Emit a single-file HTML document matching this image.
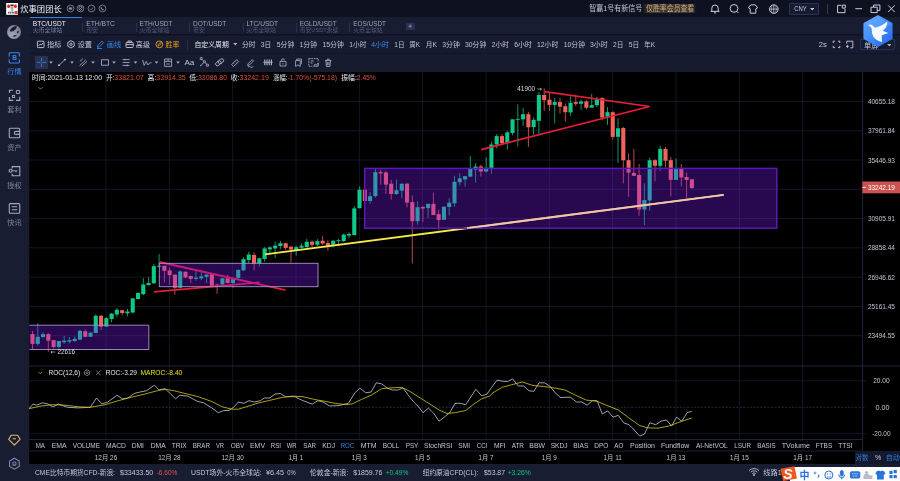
<!DOCTYPE html><html lang="zh"><head><meta charset="utf-8"><title>BTC/USDT</title><style>
html,body{margin:0;padding:0;background:#0d1120;}
body{filter:blur(0.3px);width:900px;height:481px;overflow:hidden;position:relative;font-family:"Liberation Sans","Noto Sans CJK SC",sans-serif;color:#c9cede;font-size:7.5px;line-height:1;}
.abs{position:absolute;}
svg{position:absolute;display:block;}
#title{left:0;top:0;width:900px;height:17px;background:#0d1120;}
#tabs{left:0;top:16.7px;width:900px;height:17.8px;background:#181d32;}
#tb1{left:29.4px;top:34.5px;width:871px;height:18.5px;background:#161b2f;border-top:0.6px solid #12172a;box-sizing:border-box;}
#tb2{left:29.4px;top:53px;width:871px;height:19px;background:#161b2e;border-top:0.7px solid #10152a;box-sizing:border-box;}
#side{left:0;top:34px;width:29.4px;height:447px;background:#181d32;}
#bottom{left:29px;top:463.6px;width:871px;height:17.4px;background:#181d32;}

</style></head><body>
<div id="title" class="abs"></div><div id="tabs" class="abs"></div><div id="tb1" class="abs"></div><div id="tb2" class="abs"></div><div id="side" class="abs"></div><div id="bottom" class="abs"></div>
<svg style="left:5.6px;top:3px" width="12.1" height="11.8" viewBox="0 0 12 12"><rect width="12" height="12" fill="#fdfdfd"/><ellipse cx="2.5" cy="3.3" rx="1.5" ry="1.9" fill="#d22a22"/><ellipse cx="9.5" cy="3.3" rx="1.5" ry="1.9" fill="#d22a22"/><rect x="4.3" y="2.7" width="3.4" height="3.4" rx="1.2" fill="#e3b49a"/><rect x="4.1" y="1.5" width="3.8" height="1.6" rx="0.7" fill="#3a2a26"/><path d="M5.3 4.6h1.4v1h-1.4z" fill="#8a4a40"/><rect x="4.6" y="6.2" width="2.8" height="2.4" fill="#8fc0e6"/><path d="M1.9 8.8h1.2v2h-1.2zM3.6 8.8h1.6v2h-1.6zM5.7 8.8h1v2h-1zM7.1 8.8h1v2h-1z" fill="#555"/><rect x="8.6" y="8.2" width="3.1" height="3.1" rx="0.3" fill="#ee3a2a"/></svg>
<svg style="left:66.3px;top:3.9px" width="9" height="9" viewBox="-4.5 -4.5 9 9" fill="none" stroke="#8a90a6" stroke-width="0.8"><circle r="3.4"/><path d="M-1.7 -1.1h3.4v2.2h-3.4z" fill="#8a90a6" stroke="none"/></svg>
<svg style="left:76.0px;top:3.9px" width="9" height="9" viewBox="-4.5 -4.5 9 9" fill="none" stroke="#8a90a6" stroke-width="0.8"><circle r="3.4"/><path d="M-1.5 -1.6l1.5 -0.5l1.5 0.5v1.6q0 1.2 -1.5 2q-1.5 -0.8 -1.5 -2zM-1.6 1.6l3.2 -3.2"/></svg>
<svg style="left:86.8px;top:3.9px" width="9" height="9" viewBox="-4.5 -4.5 9 9" fill="none" stroke="#8a90a6" stroke-width="0.8"><circle r="3.4"/><path d="M-1.4 0.2l1 1.1l1.9 -2.3"/></svg>
<svg style="left:98.0px;top:3.9px" width="9" height="9" viewBox="-4.5 -4.5 9 9" fill="none" stroke="#8a90a6" stroke-width="0.8"><circle r="3.4"/><path d="M-1.3 -1.4q-0.2 2.8 2.7 2.7" stroke-width="1.1"/></svg>
<div class="abs" style="left:642px;top:3.9px;width:55px;height:9.4px;background:linear-gradient(90deg,rgba(96,78,56,0),rgba(104,84,60,.6) 14%,rgba(104,84,60,.6) 86%,rgba(96,78,56,0));"></div>
<svg style="left:706px;top:2px" width="74" height="14" viewBox="706 2 74 14" fill="none" stroke="#c9cede" stroke-width="1"><path d="M710.6 11.4h8.8M711.8 11.2v-3a3.2 3.2 0 0 1 6.4 0v3M714 12.9h2"/><circle cx="734" cy="8.4" r="3.9"/><path d="M736.8 11.4l1.7 1.7"/><path d="M749.8 5.6l2.1 -1q1.1 1 2.2 0l2.1 1l1.3 2.3l-1.7 0.9v4.4h-5.6v-4.4l-1.7 -0.9z"/><circle cx="773.8" cy="9.1" r="4.3"/><path d="M769.5 9.1h8.6M773.8 4.8v8.6" stroke-width="0.8"/><path d="M771.9 5.4q-1.2 3.7 0 7.4M775.7 5.4q1.2 3.7 0 7.4" stroke-width="0.6"/></svg>
<div class="abs" style="left:789.3px;top:3px;width:29.5px;height:11.5px;border:0.8px solid #2b3252;background:#151b31;box-sizing:border-box;border-radius:1px;"></div>
<svg style="left:809.6px;top:7.9px" width="4.6" height="2.6" viewBox="0 0 5 3"><path d="M0 0h5l-2.5 3z" fill="#c9cede"/></svg>
<div class="abs" style="left:827.3px;top:4px;width:0.8px;height:9.5px;background:#333a58;"></div>
<svg style="left:834px;top:2px" width="64" height="14" viewBox="834 2 64 14" fill="none" stroke="#c9cede" stroke-width="1"><path d="M841.3 5.3h-3.7v7.4h7.4v-3.7M842.3 5.1h3v3h-3z"/><path d="M855.3 8.7h6.8"/><path d="M871 7.2h6.2v5.4h-6.2zM873.6 7v-2h6.3v5.4h-2.6"/><path d="M888.2 5.4l6.4 6.6M894.6 5.4l-6.4 6.6"/></svg>
<svg style="left:6px;top:24px" width="16" height="16" viewBox="-8 -8 16 16"><defs><radialGradient id="lg" cx="0.35" cy="0.7" r="0.8"><stop offset="0" stop-color="#a2a6b4"/><stop offset="1" stop-color="#767a8a"/></radialGradient></defs><circle r="7" fill="url(#lg)"/><path d="M-3.9 -0.6Q-4.4 -4 2.2 -6.3Q3.4 -5.4 2.2 -3.6Q-0.5 0.2 -3.9 -0.6Z" fill="#181d32"/><ellipse cx="3.9" cy="0" rx="0.8" ry="1.4" transform="rotate(22 3.9 0)" fill="#1c2136"/><ellipse cx="0.8" cy="3.9" rx="2" ry="0.65" transform="rotate(-14 0.8 3.9)" fill="#1c2136"/></svg>
<div class="abs" style="left:29.5px;top:16.8px;width:52.7px;height:18px;background:#161b2f;border-top:0.9px solid #3b7fdc;box-sizing:border-box;"></div>
<div class="abs" style="left:82.4px;top:22.5px;width:0.6px;height:9.2px;background:#2a3050;"></div>
<div class="abs" style="left:135.8px;top:22.5px;width:0.6px;height:9.2px;background:#2a3050;"></div>
<div class="abs" style="left:189.2px;top:22.5px;width:0.6px;height:9.2px;background:#2a3050;"></div>
<div class="abs" style="left:242.6px;top:22.5px;width:0.6px;height:9.2px;background:#2a3050;"></div>
<div class="abs" style="left:296.0px;top:22.5px;width:0.6px;height:9.2px;background:#2a3050;"></div>
<div class="abs" style="left:349.4px;top:22.5px;width:0.6px;height:9.2px;background:#2a3050;"></div>
<div class="abs" style="left:405.5px;top:22.5px;width:9.5px;height:7px;background:#2a3150;border-radius:1px;"></div><svg style="left:408px;top:23.8px" width="4.4" height="4.4" viewBox="0 0 4.4 4.4"><path d="M2.2 0.4v3.6M0.4 2.2h3.6" stroke="#8f97b8" stroke-width="0.8"/></svg>
<svg style="left:36px;top:39px" width="150" height="11" viewBox="36 39 150 11" fill="none" stroke-width="0.9"><g stroke="#c9cede"><rect x="37.4" y="41.2" width="6.6" height="6.4" rx="0.8"/><path d="M38.7 45.8l1.4 -1.7l1.2 0.9l1.6 -1.9"/><path d="M71 40.6l3.2 1.85v3.7l-3.2 1.85l-3.2 -1.85v-3.7z"/><circle cx="71" cy="44.3" r="1.2"/><rect x="126" y="42.5" width="7.2" height="5" rx="0.7"/><path d="M127.9 42.3v-1.3h3.4v1.3M126 44.6h7.2"/></g><g stroke="#3b86f0"><path d="M97.4 47.3l0.6 -2.1l4 -4l1.5 1.5l-4 4zM97 48.5h5"/></g><g stroke="#e8a020"><circle cx="159.4" cy="44.4" r="3.4"/><path d="M158 45.8l0.9 -2.3l2.3 -0.9l-0.9 2.3z" stroke-width="0.7"/></g></svg>
<div class="abs" style="left:187px;top:39.5px;width:0.7px;height:10px;background:#2a3150;"></div>
<svg style="left:232.8px;top:43.4px" width="4.6" height="2.6" viewBox="0 0 5 3"><path d="M0 0h5l-2.5 3z" fill="#aab0c4"/></svg>
<svg style="left:831px;top:39px" width="26" height="11" viewBox="831 39 26 11" fill="none" stroke="#c9cede" stroke-width="0.9"><path d="M833.2 43v-1.8h1.8M838 41.2h1.8v1.8M839.8 45.8v1.8h-1.8M835 47.6h-1.8v-1.8"/><path d="M846.8 43.6v-2.4h6v6.6h-2.4M846 46.4h2.8M847.4 45v2.8"/></svg>
<div class="abs" style="left:860px;top:39.3px;width:35px;height:11.2px;border:0.8px solid #2b3252;background:#151b31;box-sizing:border-box;border-radius:1px;"></div>
<svg style="left:886.6px;top:44px" width="4.6" height="2.6" viewBox="0 0 5 3"><path d="M0 0h5l-2.5 3z" fill="#aab0c4"/></svg>
<div class="abs" style="left:35px;top:55.7px;width:13.1px;height:13.2px;background:#293251;border-radius:1px;"></div>
<svg style="left:29px;top:53px" width="320" height="19" viewBox="29 53 320 19" fill="none" stroke="#b4bace" stroke-width="0.8">
<path d="M41.5 57.8v3.7M41.5 63.3v3.7M36.8 62.4h3.8M42.4 62.4h3.8" stroke="#3f86ea" stroke-width="0.8"/>
<path d="M49.2 61.6h3.6l-1.8 2.2z" fill="#aab0c4" stroke="none"/>
<path d="M70.2 61.6h3.6l-1.8 2.2z" fill="#aab0c4" stroke="none"/>
<path d="M91.2 61.6h3.6l-1.8 2.2z" fill="#aab0c4" stroke="none"/>
<path d="M112.2 61.6h3.6l-1.8 2.2z" fill="#aab0c4" stroke="none"/>
<path d="M133.7 61.6h3.6l-1.8 2.2z" fill="#aab0c4" stroke="none"/>
<path d="M154.7 61.6h3.6l-1.8 2.2z" fill="#aab0c4" stroke="none"/>
<path d="M176.2 61.6h3.6l-1.8 2.2z" fill="#aab0c4" stroke="none"/>
<path d="M59.2 65l5.6 -5.2"/><circle cx="59" cy="65.2" r="0.9" fill="#c9cede" stroke="none"/><circle cx="65" cy="59.6" r="0.9" fill="#c9cede" stroke="none"/>
<path d="M79.6 65.6l6.2 -5.8M81.6 66.4l5.4 -5M79.8 61.4l3 -2.8" stroke-width="0.8"/>
<rect x="101.6" y="59.8" width="6.8" height="5.4"/>
<path d="M122.6 59.6h7M122.6 62.5h7M122.6 65.4h7M124.8 58.8v1.6M127.4 64.6v1.6" />
<path d="M142.6 60l1.6 5.4l2 -4l1.8 3.6l1.8 -2.2h1.6" stroke-width="0.8"/>
<path d="M164.6 59h7v7.4h-7zM164.6 61.4h7M168.1 59v2.4M166.4 64h3.4" stroke-width="0.8"/>
<path d="M200.2 57.6h2v2h-2zM203.4 60.8h2v2h-2zM206.4 64.2h2v2h-2zM202.2 59.6l1.2 1.2M205.4 62.8l1.2 1.4M203.4 62.8l-2.6 2.8M200 65.6h1.6" stroke-width="0.75"/>
<g transform="rotate(-38 219.6 62.3)" stroke-width="0.85"><rect x="215" y="60.5" width="6" height="3.6" rx="1.8"/><rect x="218.2" y="60.5" width="6" height="3.6" rx="1.8"/></g>
<path d="M231.6 64.6l5 -5l2 2l-5 5zM233.4 63l0.9 0.9M235 61.4l0.9 0.9" stroke-width="0.8"/>
<path d="M247.6 65.6l0.5 -1.8l4.2 -4.2l1.3 1.3l-4.2 4.2zM248 67q1.6 -1.4 2.6 0t2.8 -0.6" stroke-width="0.8"/>
<path d="M263.2 62.3h9.6" stroke-width="0.8"/><path d="M264.8 59.4v5.8M267 59.4v5.8M269.2 59.4v5.8M271.4 59.4v5.8" stroke-width="1.1"/>
<path d="M280 61.4h6v4.6h-6zM281.6 61.2v-1a1.4 1.4 0 0 1 2.8 0M283 63v1.4" stroke-width="0.8"/>
<path d="M295.6 60.6h4.6v5.8l-2.3 -1.4l-2.3 1.4zM296.8 60.4v-1.4h4.6v5.2" stroke-width="0.8"/>
<path d="M308.8 58.6h9.4v3.2M308.8 58.6v7.6h3.6" stroke-width="0.8" stroke-dasharray="1.8 0.7"/><path d="M310.6 61h3.2M310.6 63h2M313.6 66.2l1.6 -2.2l1.2 1.2l1.8 -2.4v3.4z" stroke-width="0.8"/>
<path d="M325 60.6h6.4M326 60.6l0.4 5.8h3.6l0.4 -5.8M327.2 60.4v-1.2h2v1.2M327.6 62.2v3M328.9 62.2v3" stroke-width="0.8"/>
</svg>
<svg style="left:0;top:36px" width="29" height="445" viewBox="0 36 29 445" fill="none" stroke-width="1.1">
<g stroke="#3b86f0"><rect x="9.2" y="52.8" width="10.2" height="10.2" rx="0.9"/><path d="M9.2 56.4v3M19.4 56.4v3" stroke="#181d32" stroke-width="1.6"/></g>
<text x="12.3" y="60.3" font-size="6.6" font-weight="bold" fill="#3b86f0" font-family='"Liberation Sans",sans-serif'>B</text>
<g stroke="#a4aabe"><path d="M9.4 93v-2.7h3.6M9.4 97v3.4h3.8M16 100.4h3.8v-3.6"/><circle cx="18" cy="92" r="1.8"/><rect x="12.4" y="95.4" width="2.2" height="2.2" stroke-width="0.9"/>
<rect x="9.3" y="128.2" width="10.4" height="9.6" rx="1"/><path d="M19.7 131.4h-3.9a1.5 1.5 0 0 0 0 3h3.9"/>
<path d="M12.2 168.4v-1.8h7.6v9.2h-7.6v-2"/><circle cx="10.6" cy="170.8" r="1.5"/><path d="M12.1 170.8h5.2M16 170.8v1.5" stroke-width="0.9"/>
<rect x="9.3" y="203.6" width="10.4" height="9.6" rx="1"/><path d="M11.8 206.8h5.4M11.8 209.8h5.4"/></g>
<g stroke="#e0b070" stroke-width="1.1" stroke-linejoin="round"><path d="M8.7 439.4l2.4 -4.1h6.6l2.4 4.1l-5.7 5.8zM12.6 438.8h3.4" /></g>
<g stroke="#8088ae"><path d="M14.4 458.2l4.8 2.75v5.5l-4.8 2.75l-4.8 -2.75v-5.5z"/><circle cx="14.4" cy="463.7" r="1.7"/></g>
</svg>
<svg style="left:29px;top:72px" width="871" height="392" viewBox="29 72 871 392" font-family='"Liberation Sans","Noto Sans CJK SC",sans-serif' font-size="7.2">
<rect x="29.4" y="72" width="871" height="392" fill="#000"/>
<path d="M106.0 72V439.6" stroke="#1b2038" stroke-width="0.7"/>
<path d="M169.3 72V439.6" stroke="#1b2038" stroke-width="0.7"/>
<path d="M232.7 72V439.6" stroke="#1b2038" stroke-width="0.7"/>
<path d="M296.0 72V439.6" stroke="#1b2038" stroke-width="0.7"/>
<path d="M359.3 72V439.6" stroke="#1b2038" stroke-width="0.7"/>
<path d="M422.6 72V439.6" stroke="#1b2038" stroke-width="0.7"/>
<path d="M486.0 72V439.6" stroke="#1b2038" stroke-width="0.7"/>
<path d="M549.3 72V439.6" stroke="#1b2038" stroke-width="0.7"/>
<path d="M612.6 72V439.6" stroke="#1b2038" stroke-width="0.7"/>
<path d="M676.0 72V439.6" stroke="#1b2038" stroke-width="0.7"/>
<path d="M739.3 72V439.6" stroke="#1b2038" stroke-width="0.7"/>
<path d="M802.6 72V439.6" stroke="#1b2038" stroke-width="0.7"/>
<path d="M29 101.5H862.6" stroke="#1b2038" stroke-width="0.7"/>
<path d="M29 130.8H862.6" stroke="#1b2038" stroke-width="0.7"/>
<path d="M29 160.0H862.6" stroke="#1b2038" stroke-width="0.7"/>
<path d="M29 189.3H862.6" stroke="#1b2038" stroke-width="0.7"/>
<path d="M29 218.6H862.6" stroke="#1b2038" stroke-width="0.7"/>
<path d="M29 247.8H862.6" stroke="#1b2038" stroke-width="0.7"/>
<path d="M29 277.1H862.6" stroke="#1b2038" stroke-width="0.7"/>
<path d="M29 306.4H862.6" stroke="#1b2038" stroke-width="0.7"/>
<path d="M29 335.7H862.6" stroke="#1b2038" stroke-width="0.7"/>
<path d="M29 366H900" stroke="#232a48" stroke-width="0.9"/>
<path d="M29 380.8H866M29 433.6H866" stroke="#1b2038" stroke-width="0.7"/>
<path d="M29 407.3H866" stroke="#272e50" stroke-width="0.8" stroke-dasharray="2.2 1.3"/>
<path d="M29 439.6H862.6" stroke="#232a48" stroke-width="0.9"/>
<path d="M862.6 72V451" stroke="#232a48" stroke-width="0.9"/>
<path d="M32.5 330.8V350.0" stroke="#f0625c" stroke-width="0.9" opacity="0.85"/>
<rect x="30.45" y="334.1" width="4.1" height="9.8" fill="#f0625c"/>
<path d="M37.8 323.3V345.7" stroke="#10c888" stroke-width="0.9" opacity="0.85"/>
<rect x="35.73" y="336.8" width="4.1" height="7.1" fill="#10c888"/>
<path d="M43.0 332.3V338.3" stroke="#10c888" stroke-width="0.9" opacity="0.85"/>
<rect x="41.00" y="334.1" width="4.1" height="2.9" fill="#10c888"/>
<path d="M48.3 333.2V351.7" stroke="#f0625c" stroke-width="0.9" opacity="0.85"/>
<rect x="46.28" y="334.1" width="4.1" height="6.6" fill="#f0625c"/>
<path d="M53.6 340.1V348.5" stroke="#f0625c" stroke-width="0.9" opacity="0.85"/>
<rect x="51.55" y="340.1" width="4.1" height="6.9" fill="#f0625c"/>
<path d="M58.9 341.0V348.2" stroke="#10c888" stroke-width="0.9" opacity="0.85"/>
<rect x="56.83" y="341.0" width="4.1" height="6.0" fill="#10c888"/>
<path d="M64.2 335.8V343.9" stroke="#10c888" stroke-width="0.9" opacity="0.85"/>
<rect x="62.10" y="340.7" width="4.1" height="1.5" fill="#10c888"/>
<path d="M69.4 337.0V343.5" stroke="#10c888" stroke-width="0.9" opacity="0.85"/>
<rect x="67.38" y="340.1" width="4.1" height="1.5" fill="#10c888"/>
<path d="M74.7 336.4V342.0" stroke="#10c888" stroke-width="0.9" opacity="0.85"/>
<rect x="72.65" y="338.8" width="4.1" height="2.2" fill="#10c888"/>
<path d="M80.0 329.8V340.1" stroke="#10c888" stroke-width="0.9" opacity="0.85"/>
<rect x="77.92" y="330.8" width="4.1" height="8.8" fill="#10c888"/>
<path d="M85.2 329.5V337.3" stroke="#f0625c" stroke-width="0.9" opacity="0.85"/>
<rect x="83.20" y="331.3" width="4.1" height="5.5" fill="#f0625c"/>
<path d="M90.5 332.6V336.8" stroke="#10c888" stroke-width="0.9" opacity="0.85"/>
<rect x="88.48" y="332.6" width="4.1" height="4.2" fill="#10c888"/>
<path d="M95.8 314.3V333.0" stroke="#10c888" stroke-width="0.9" opacity="0.85"/>
<rect x="93.75" y="315.8" width="4.1" height="17.2" fill="#10c888"/>
<path d="M101.1 314.9V330.2" stroke="#f0625c" stroke-width="0.9" opacity="0.85"/>
<rect x="99.03" y="315.8" width="4.1" height="10.9" fill="#f0625c"/>
<path d="M106.4 317.1V326.7" stroke="#10c888" stroke-width="0.9" opacity="0.85"/>
<rect x="104.30" y="318.2" width="4.1" height="8.5" fill="#10c888"/>
<path d="M111.6 313.0V322.4" stroke="#10c888" stroke-width="0.9" opacity="0.85"/>
<rect x="109.58" y="313.6" width="4.1" height="5.4" fill="#10c888"/>
<path d="M116.9 308.0V317.1" stroke="#10c888" stroke-width="0.9" opacity="0.85"/>
<rect x="114.85" y="309.8" width="4.1" height="4.7" fill="#10c888"/>
<path d="M122.2 309.8V314.9" stroke="#f0625c" stroke-width="0.9" opacity="0.85"/>
<rect x="120.13" y="310.2" width="4.1" height="2.8" fill="#f0625c"/>
<path d="M127.5 308.9V316.2" stroke="#10c888" stroke-width="0.9" opacity="0.85"/>
<rect x="125.40" y="311.5" width="4.1" height="1.9" fill="#10c888"/>
<path d="M132.7 298.0V313.4" stroke="#10c888" stroke-width="0.9" opacity="0.85"/>
<rect x="130.68" y="298.4" width="4.1" height="14.1" fill="#10c888"/>
<path d="M138.0 292.4V299.5" stroke="#10c888" stroke-width="0.9" opacity="0.85"/>
<rect x="135.95" y="293.0" width="4.1" height="6.0" fill="#10c888"/>
<path d="M143.3 277.9V295.1" stroke="#10c888" stroke-width="0.9" opacity="0.85"/>
<rect x="141.22" y="284.5" width="4.1" height="9.7" fill="#10c888"/>
<path d="M148.6 277.0V285.2" stroke="#10c888" stroke-width="0.9" opacity="0.85"/>
<rect x="146.50" y="283.0" width="4.1" height="2.2" fill="#10c888"/>
<path d="M153.8 263.9V283.4" stroke="#10c888" stroke-width="0.9" opacity="0.85"/>
<rect x="151.77" y="266.1" width="4.1" height="17.3" fill="#10c888"/>
<path d="M159.1 254.0V267.0" stroke="#10c888" stroke-width="0.9" opacity="0.85"/>
<rect x="157.05" y="265.8" width="4.1" height="0.9" fill="#10c888"/>
<path d="M164.4 265.8V282.6" stroke="#f0625c" stroke-width="0.9" opacity="0.85"/>
<rect x="162.32" y="265.8" width="4.1" height="5.0" fill="#f0625c"/>
<path d="M169.7 267.6V284.5" stroke="#f0625c" stroke-width="0.9" opacity="0.85"/>
<rect x="167.60" y="270.4" width="4.1" height="4.7" fill="#f0625c"/>
<path d="M174.9 274.6V294.6" stroke="#f0625c" stroke-width="0.9" opacity="0.85"/>
<rect x="172.88" y="274.6" width="4.1" height="13.1" fill="#f0625c"/>
<path d="M180.2 270.4V288.6" stroke="#10c888" stroke-width="0.9" opacity="0.85"/>
<rect x="178.15" y="271.4" width="4.1" height="16.3" fill="#10c888"/>
<path d="M185.5 271.4V278.3" stroke="#f0625c" stroke-width="0.9" opacity="0.85"/>
<rect x="183.43" y="271.8" width="4.1" height="5.6" fill="#f0625c"/>
<path d="M190.8 275.5V283.0" stroke="#f0625c" stroke-width="0.9" opacity="0.85"/>
<rect x="188.70" y="276.0" width="4.1" height="2.9" fill="#f0625c"/>
<path d="M196.0 270.8V280.7" stroke="#10c888" stroke-width="0.9" opacity="0.85"/>
<rect x="193.97" y="277.7" width="4.1" height="1.2" fill="#10c888"/>
<path d="M201.3 272.1V280.2" stroke="#10c888" stroke-width="0.9" opacity="0.85"/>
<rect x="199.25" y="276.4" width="4.1" height="1.9" fill="#10c888"/>
<path d="M206.6 274.0V283.0" stroke="#10c888" stroke-width="0.9" opacity="0.85"/>
<rect x="204.53" y="274.6" width="4.1" height="2.2" fill="#10c888"/>
<path d="M211.9 274.2V285.8" stroke="#f0625c" stroke-width="0.9" opacity="0.85"/>
<rect x="209.80" y="274.2" width="4.1" height="11.6" fill="#f0625c"/>
<path d="M217.1 283.4V293.8" stroke="#f0625c" stroke-width="0.9" opacity="0.85"/>
<rect x="215.07" y="284.5" width="4.1" height="0.9" fill="#f0625c"/>
<path d="M222.4 278.0V285.0" stroke="#10c888" stroke-width="0.9" opacity="0.85"/>
<rect x="220.35" y="278.3" width="4.1" height="6.2" fill="#10c888"/>
<path d="M227.7 274.6V283.4" stroke="#f0625c" stroke-width="0.9" opacity="0.85"/>
<rect x="225.62" y="278.3" width="4.1" height="4.7" fill="#f0625c"/>
<path d="M233.0 278.3V287.7" stroke="#10c888" stroke-width="0.9" opacity="0.85"/>
<rect x="230.90" y="279.2" width="4.1" height="3.8" fill="#10c888"/>
<path d="M238.2 269.5V279.2" stroke="#10c888" stroke-width="0.9" opacity="0.85"/>
<rect x="236.18" y="269.9" width="4.1" height="8.0" fill="#10c888"/>
<path d="M243.5 257.2V270.8" stroke="#10c888" stroke-width="0.9" opacity="0.85"/>
<rect x="241.45" y="259.2" width="4.1" height="11.2" fill="#10c888"/>
<path d="M248.8 251.7V263.3" stroke="#10c888" stroke-width="0.9" opacity="0.85"/>
<rect x="246.72" y="254.5" width="4.1" height="5.5" fill="#10c888"/>
<path d="M254.1 252.1V270.4" stroke="#f0625c" stroke-width="0.9" opacity="0.85"/>
<rect x="252.00" y="254.9" width="4.1" height="8.8" fill="#f0625c"/>
<path d="M259.3 257.7V266.5" stroke="#10c888" stroke-width="0.9" opacity="0.85"/>
<rect x="257.28" y="258.3" width="4.1" height="5.0" fill="#10c888"/>
<path d="M264.6 247.1V261.5" stroke="#10c888" stroke-width="0.9" opacity="0.85"/>
<rect x="262.55" y="248.4" width="4.1" height="10.6" fill="#10c888"/>
<path d="M269.9 245.9V253.0" stroke="#10c888" stroke-width="0.9" opacity="0.85"/>
<rect x="267.82" y="247.4" width="4.1" height="1.9" fill="#10c888"/>
<path d="M275.1 241.5V258.3" stroke="#10c888" stroke-width="0.9" opacity="0.85"/>
<rect x="273.10" y="245.6" width="4.1" height="2.8" fill="#10c888"/>
<path d="M280.4 240.9V248.9" stroke="#10c888" stroke-width="0.9" opacity="0.85"/>
<rect x="278.38" y="243.3" width="4.1" height="2.7" fill="#10c888"/>
<path d="M285.7 242.7V249.8" stroke="#f0625c" stroke-width="0.9" opacity="0.85"/>
<rect x="283.65" y="243.3" width="4.1" height="4.6" fill="#f0625c"/>
<path d="M291.0 245.8V262.6" stroke="#f0625c" stroke-width="0.9" opacity="0.85"/>
<rect x="288.93" y="246.7" width="4.1" height="2.8" fill="#f0625c"/>
<path d="M296.2 245.8V255.7" stroke="#10c888" stroke-width="0.9" opacity="0.85"/>
<rect x="294.20" y="247.1" width="4.1" height="3.4" fill="#10c888"/>
<path d="M301.5 243.4V248.6" stroke="#10c888" stroke-width="0.9" opacity="0.85"/>
<rect x="299.48" y="245.8" width="4.1" height="1.9" fill="#10c888"/>
<path d="M306.8 238.9V247.7" stroke="#10c888" stroke-width="0.9" opacity="0.85"/>
<rect x="304.75" y="241.7" width="4.1" height="5.4" fill="#10c888"/>
<path d="M312.1 240.2V247.3" stroke="#f0625c" stroke-width="0.9" opacity="0.85"/>
<rect x="310.03" y="241.7" width="4.1" height="3.1" fill="#f0625c"/>
<path d="M317.4 239.2V246.3" stroke="#10c888" stroke-width="0.9" opacity="0.85"/>
<rect x="315.30" y="241.1" width="4.1" height="3.7" fill="#10c888"/>
<path d="M322.6 235.9V244.8" stroke="#f0625c" stroke-width="0.9" opacity="0.85"/>
<rect x="320.57" y="240.7" width="4.1" height="2.8" fill="#f0625c"/>
<path d="M327.9 240.2V250.8" stroke="#f0625c" stroke-width="0.9" opacity="0.85"/>
<rect x="325.85" y="243.0" width="4.1" height="2.8" fill="#f0625c"/>
<path d="M333.2 240.7V247.3" stroke="#10c888" stroke-width="0.9" opacity="0.85"/>
<rect x="331.12" y="240.7" width="4.1" height="4.1" fill="#10c888"/>
<path d="M338.5 238.9V245.8" stroke="#10c888" stroke-width="0.9" opacity="0.85"/>
<rect x="336.40" y="240.2" width="4.1" height="0.9" fill="#10c888"/>
<path d="M343.7 233.6V242.0" stroke="#10c888" stroke-width="0.9" opacity="0.85"/>
<rect x="341.68" y="234.6" width="4.1" height="6.5" fill="#10c888"/>
<path d="M349.0 232.1V238.3" stroke="#10c888" stroke-width="0.9" opacity="0.85"/>
<rect x="346.95" y="234.0" width="4.1" height="1.5" fill="#10c888"/>
<path d="M354.3 206.1V235.1" stroke="#10c888" stroke-width="0.9" opacity="0.85"/>
<rect x="352.23" y="208.4" width="4.1" height="26.7" fill="#10c888"/>
<path d="M359.6 186.5V208.4" stroke="#10c888" stroke-width="0.9" opacity="0.85"/>
<rect x="357.50" y="189.7" width="4.1" height="18.5" fill="#10c888"/>
<path d="M364.8 189.7V201.0" stroke="#f0625c" stroke-width="0.9" opacity="0.85"/>
<rect x="362.78" y="189.7" width="4.1" height="11.3" fill="#f0625c"/>
<path d="M370.1 192.1V203.8" stroke="#10c888" stroke-width="0.9" opacity="0.85"/>
<rect x="368.05" y="196.2" width="4.1" height="4.8" fill="#10c888"/>
<path d="M375.4 168.3V197.7" stroke="#10c888" stroke-width="0.9" opacity="0.85"/>
<rect x="373.32" y="172.1" width="4.1" height="24.0" fill="#10c888"/>
<path d="M380.7 169.6V184.6" stroke="#f0625c" stroke-width="0.9" opacity="0.85"/>
<rect x="378.60" y="172.1" width="4.1" height="1.3" fill="#f0625c"/>
<path d="M385.9 170.6V194.0" stroke="#f0625c" stroke-width="0.9" opacity="0.85"/>
<rect x="383.88" y="172.4" width="4.1" height="12.2" fill="#f0625c"/>
<path d="M391.2 179.9V199.6" stroke="#f0625c" stroke-width="0.9" opacity="0.85"/>
<rect x="389.15" y="183.7" width="4.1" height="10.3" fill="#f0625c"/>
<path d="M396.5 179.5V195.0" stroke="#10c888" stroke-width="0.9" opacity="0.85"/>
<rect x="394.43" y="190.2" width="4.1" height="3.8" fill="#10c888"/>
<path d="M401.8 183.7V198.4" stroke="#10c888" stroke-width="0.9" opacity="0.85"/>
<rect x="399.70" y="183.7" width="4.1" height="6.9" fill="#10c888"/>
<path d="M407.0 182.7V207.4" stroke="#f0625c" stroke-width="0.9" opacity="0.85"/>
<rect x="404.98" y="183.7" width="4.1" height="18.9" fill="#f0625c"/>
<path d="M412.3 195.4V263.5" stroke="#f0625c" stroke-width="0.9" opacity="0.85"/>
<rect x="410.25" y="202.1" width="4.1" height="19.1" fill="#f0625c"/>
<path d="M417.6 201.2V224.7" stroke="#10c888" stroke-width="0.9" opacity="0.85"/>
<rect x="415.53" y="207.2" width="4.1" height="14.0" fill="#10c888"/>
<path d="M422.9 206.1V221.8" stroke="#f0625c" stroke-width="0.9" opacity="0.85"/>
<rect x="420.80" y="207.0" width="4.1" height="1.5" fill="#f0625c"/>
<path d="M428.1 203.8V218.0" stroke="#10c888" stroke-width="0.9" opacity="0.85"/>
<rect x="426.07" y="203.8" width="4.1" height="4.3" fill="#10c888"/>
<path d="M433.4 192.6V215.1" stroke="#f0625c" stroke-width="0.9" opacity="0.85"/>
<rect x="431.35" y="203.9" width="4.1" height="11.2" fill="#f0625c"/>
<path d="M438.7 209.8V230.4" stroke="#f0625c" stroke-width="0.9" opacity="0.85"/>
<rect x="436.62" y="214.1" width="4.1" height="6.0" fill="#f0625c"/>
<path d="M444.0 206.7V219.8" stroke="#10c888" stroke-width="0.9" opacity="0.85"/>
<rect x="441.90" y="206.7" width="4.1" height="13.1" fill="#10c888"/>
<path d="M449.2 198.3V215.5" stroke="#10c888" stroke-width="0.9" opacity="0.85"/>
<rect x="447.18" y="202.7" width="4.1" height="4.3" fill="#10c888"/>
<path d="M454.5 175.8V206.7" stroke="#10c888" stroke-width="0.9" opacity="0.85"/>
<rect x="452.45" y="181.8" width="4.1" height="21.5" fill="#10c888"/>
<path d="M459.8 173.4V185.5" stroke="#10c888" stroke-width="0.9" opacity="0.85"/>
<rect x="457.73" y="178.4" width="4.1" height="3.8" fill="#10c888"/>
<path d="M465.1 175.8V186.5" stroke="#10c888" stroke-width="0.9" opacity="0.85"/>
<rect x="463.00" y="176.2" width="4.1" height="3.2" fill="#10c888"/>
<path d="M470.3 156.0V176.7" stroke="#10c888" stroke-width="0.9" opacity="0.85"/>
<rect x="468.28" y="168.7" width="4.1" height="8.0" fill="#10c888"/>
<path d="M475.6 163.1V182.7" stroke="#10c888" stroke-width="0.9" opacity="0.85"/>
<rect x="473.55" y="166.5" width="4.1" height="3.1" fill="#10c888"/>
<path d="M480.9 164.6V176.7" stroke="#f0625c" stroke-width="0.9" opacity="0.85"/>
<rect x="478.83" y="166.5" width="4.1" height="5.0" fill="#f0625c"/>
<path d="M486.2 157.1V172.4" stroke="#10c888" stroke-width="0.9" opacity="0.85"/>
<rect x="484.10" y="167.8" width="4.1" height="3.7" fill="#10c888"/>
<path d="M491.4 141.7V173.9" stroke="#10c888" stroke-width="0.9" opacity="0.85"/>
<rect x="489.38" y="144.5" width="4.1" height="23.4" fill="#10c888"/>
<path d="M496.7 134.2V148.3" stroke="#10c888" stroke-width="0.9" opacity="0.85"/>
<rect x="494.65" y="136.1" width="4.1" height="8.4" fill="#10c888"/>
<path d="M502.0 134.2V144.5" stroke="#f0625c" stroke-width="0.9" opacity="0.85"/>
<rect x="499.93" y="136.1" width="4.1" height="7.1" fill="#f0625c"/>
<path d="M507.3 130.9V149.6" stroke="#10c888" stroke-width="0.9" opacity="0.85"/>
<rect x="505.20" y="132.4" width="4.1" height="10.3" fill="#10c888"/>
<path d="M512.5 119.3V135.2" stroke="#10c888" stroke-width="0.9" opacity="0.85"/>
<rect x="510.48" y="119.3" width="4.1" height="13.6" fill="#10c888"/>
<path d="M517.8 104.3V146.4" stroke="#10c888" stroke-width="0.9" opacity="0.85"/>
<rect x="515.75" y="118.9" width="4.1" height="0.9" fill="#10c888"/>
<path d="M523.1 108.1V125.8" stroke="#10c888" stroke-width="0.9" opacity="0.85"/>
<rect x="521.03" y="114.2" width="4.1" height="5.1" fill="#10c888"/>
<path d="M528.4 111.8V147.0" stroke="#f0625c" stroke-width="0.9" opacity="0.85"/>
<rect x="526.30" y="114.2" width="4.1" height="13.1" fill="#f0625c"/>
<path d="M533.6 117.4V135.2" stroke="#10c888" stroke-width="0.9" opacity="0.85"/>
<rect x="531.58" y="119.8" width="4.1" height="7.3" fill="#10c888"/>
<path d="M538.9 92.2V134.2" stroke="#10c888" stroke-width="0.9" opacity="0.85"/>
<rect x="536.85" y="95.0" width="4.1" height="25.8" fill="#10c888"/>
<path d="M544.2 88.4V110.9" stroke="#f0625c" stroke-width="0.9" opacity="0.85"/>
<rect x="542.12" y="95.0" width="4.1" height="5.2" fill="#f0625c"/>
<path d="M549.5 92.2V110.9" stroke="#f0625c" stroke-width="0.9" opacity="0.85"/>
<rect x="547.40" y="99.6" width="4.1" height="5.3" fill="#f0625c"/>
<path d="M554.7 98.1V123.4" stroke="#10c888" stroke-width="0.9" opacity="0.85"/>
<rect x="552.68" y="102.1" width="4.1" height="2.8" fill="#10c888"/>
<path d="M560.0 98.1V113.7" stroke="#f0625c" stroke-width="0.9" opacity="0.85"/>
<rect x="557.95" y="102.1" width="4.1" height="4.6" fill="#f0625c"/>
<path d="M565.3 103.4V121.5" stroke="#f0625c" stroke-width="0.9" opacity="0.85"/>
<rect x="563.23" y="106.2" width="4.1" height="6.0" fill="#f0625c"/>
<path d="M570.6 96.3V115.9" stroke="#10c888" stroke-width="0.9" opacity="0.85"/>
<rect x="568.50" y="102.8" width="4.1" height="9.6" fill="#10c888"/>
<path d="M575.8 94.6V106.2" stroke="#f0625c" stroke-width="0.9" opacity="0.85"/>
<rect x="573.78" y="102.1" width="4.1" height="1.7" fill="#f0625c"/>
<path d="M581.1 99.6V109.9" stroke="#10c888" stroke-width="0.9" opacity="0.85"/>
<rect x="579.05" y="101.5" width="4.1" height="2.3" fill="#10c888"/>
<path d="M586.4 100.2V109.4" stroke="#f0625c" stroke-width="0.9" opacity="0.85"/>
<rect x="584.33" y="101.5" width="4.1" height="6.2" fill="#f0625c"/>
<path d="M591.7 94.0V107.7" stroke="#10c888" stroke-width="0.9" opacity="0.85"/>
<rect x="589.60" y="105.2" width="4.1" height="2.5" fill="#10c888"/>
<path d="M596.9 96.8V107.1" stroke="#10c888" stroke-width="0.9" opacity="0.85"/>
<rect x="594.88" y="99.3" width="4.1" height="5.9" fill="#10c888"/>
<path d="M602.2 97.2V120.2" stroke="#f0625c" stroke-width="0.9" opacity="0.85"/>
<rect x="600.15" y="98.0" width="4.1" height="19.5" fill="#f0625c"/>
<path d="M607.5 107.1V124.8" stroke="#10c888" stroke-width="0.9" opacity="0.85"/>
<rect x="605.43" y="112.2" width="4.1" height="4.5" fill="#10c888"/>
<path d="M612.8 111.2V139.7" stroke="#f0625c" stroke-width="0.9" opacity="0.85"/>
<rect x="610.70" y="112.2" width="4.1" height="24.7" fill="#f0625c"/>
<path d="M618.0 118.6V162.9" stroke="#10c888" stroke-width="0.9" opacity="0.85"/>
<rect x="615.98" y="128.3" width="4.1" height="8.5" fill="#10c888"/>
<path d="M623.3 127.0V183.3" stroke="#f0625c" stroke-width="0.9" opacity="0.85"/>
<rect x="621.25" y="128.0" width="4.1" height="32.2" fill="#f0625c"/>
<path d="M628.6 153.3V196.8" stroke="#f0625c" stroke-width="0.9" opacity="0.85"/>
<rect x="626.53" y="160.2" width="4.1" height="12.4" fill="#f0625c"/>
<path d="M633.9 148.9V176.0" stroke="#f0625c" stroke-width="0.9" opacity="0.85"/>
<rect x="631.80" y="172.9" width="4.1" height="2.9" fill="#f0625c"/>
<path d="M639.1 164.0V215.8" stroke="#f0625c" stroke-width="0.9" opacity="0.85"/>
<rect x="637.08" y="175.0" width="4.1" height="34.5" fill="#f0625c"/>
<path d="M644.4 183.3V225.2" stroke="#10c888" stroke-width="0.9" opacity="0.85"/>
<rect x="642.35" y="200.1" width="4.1" height="9.4" fill="#10c888"/>
<path d="M649.7 157.8V210.8" stroke="#10c888" stroke-width="0.9" opacity="0.85"/>
<rect x="647.63" y="160.2" width="4.1" height="40.3" fill="#10c888"/>
<path d="M655.0 159.3V181.4" stroke="#f0625c" stroke-width="0.9" opacity="0.85"/>
<rect x="652.90" y="160.2" width="4.1" height="5.6" fill="#f0625c"/>
<path d="M660.2 145.7V170.9" stroke="#10c888" stroke-width="0.9" opacity="0.85"/>
<rect x="658.18" y="148.9" width="4.1" height="16.9" fill="#10c888"/>
<path d="M665.5 147.0V167.7" stroke="#f0625c" stroke-width="0.9" opacity="0.85"/>
<rect x="663.45" y="148.9" width="4.1" height="11.8" fill="#f0625c"/>
<path d="M670.8 157.0V196.4" stroke="#f0625c" stroke-width="0.9" opacity="0.85"/>
<rect x="668.73" y="160.2" width="4.1" height="19.7" fill="#f0625c"/>
<path d="M676.1 158.6V179.9" stroke="#10c888" stroke-width="0.9" opacity="0.85"/>
<rect x="674.00" y="168.6" width="4.1" height="11.3" fill="#10c888"/>
<path d="M681.3 164.0V186.5" stroke="#f0625c" stroke-width="0.9" opacity="0.85"/>
<rect x="679.28" y="169.0" width="4.1" height="8.5" fill="#f0625c"/>
<path d="M686.6 172.4V198.3" stroke="#f0625c" stroke-width="0.9" opacity="0.85"/>
<rect x="684.55" y="177.0" width="4.1" height="2.9" fill="#f0625c"/>
<path d="M691.9 178.9V188.9" stroke="#f0625c" stroke-width="0.9" opacity="0.85"/>
<rect x="689.83" y="179.3" width="4.1" height="8.7" fill="#f0625c"/>
<path d="M159.6 262L285.5 290.1" stroke="#e81c38" stroke-width="1.8"/>
<path d="M154 291.8L259.7 282.4" stroke="#e81c38" stroke-width="1.8"/>
<path d="M544.4 91.6L649.6 106.5L481.2 149.6" stroke="#e81c38" stroke-width="1.7" fill="none"/>
<path d="M264.9 254.4L723.7 194.9" stroke="#f4ea4e" stroke-width="1.8"/>
<rect x="29.4" y="325.2" width="119.4" height="24.3" fill="rgba(130,25,255,0.31)"/><path d="M29.4 325.2H148.8V349.5H29.4" fill="none" stroke="#aa92cc" stroke-width="0.9"/>
<rect x="159.3" y="263.3" width="158.7" height="23.4" fill="rgba(130,25,255,0.31)" stroke="#aa92cc" stroke-width="0.9"/>
<rect x="364.7" y="168.4" width="412.1" height="59.8" fill="rgba(130,25,255,0.31)" stroke="#5a1ab8" stroke-width="1.5"/>
<path d="M467 228.2L723.7 194.9" stroke="#efc6a6" stroke-width="1.8"/>
<text x="517.3" y="90.99" font-size="7.2" fill="#d8dbe6" textLength="17.9" lengthAdjust="spacingAndGlyphs">41900</text>
<text x="536.8" y="90.5" font-size="6.2" font-family="DejaVu Sans,sans-serif" fill="#d4d8e4">→</text>
<text x="50.4" y="353.8" font-size="6.2" font-family="DejaVu Sans,sans-serif" fill="#d4d8e4">←</text>
<text x="57.4" y="354.29" font-size="7.2" fill="#d8dbe6" textLength="17.7" lengthAdjust="spacingAndGlyphs">22616</text>
<text x="31.8" y="80.19" font-size="7.2" fill="#e6e8f0" textLength="70.2" lengthAdjust="spacingAndGlyphs">时间:2021-01-13 12:00</text>
<text x="106.3" y="80.19" font-size="7.2" fill="#e6e8f0" textLength="8.0" lengthAdjust="spacingAndGlyphs">开:</text>
<text x="114.3" y="80.19" font-size="7.2" fill="#de5048" textLength="29.5" lengthAdjust="spacingAndGlyphs">33821.07</text>
<text x="147.5" y="80.19" font-size="7.2" fill="#e6e8f0" textLength="8.8" lengthAdjust="spacingAndGlyphs">高:</text>
<text x="156.3" y="80.19" font-size="7.2" fill="#de5048" textLength="29.5" lengthAdjust="spacingAndGlyphs">33914.35</text>
<text x="189.3" y="80.19" font-size="7.2" fill="#e6e8f0" textLength="8.7" lengthAdjust="spacingAndGlyphs">低:</text>
<text x="198" y="80.19" font-size="7.2" fill="#de5048" textLength="29.0" lengthAdjust="spacingAndGlyphs">33086.80</text>
<text x="230.8" y="80.19" font-size="7.2" fill="#e6e8f0" textLength="8.7" lengthAdjust="spacingAndGlyphs">收:</text>
<text x="239.5" y="80.19" font-size="7.2" fill="#de5048" textLength="29.3" lengthAdjust="spacingAndGlyphs">33242.19</text>
<text x="273.3" y="80.19" font-size="7.2" fill="#e6e8f0" textLength="14.2" lengthAdjust="spacingAndGlyphs">涨幅:</text>
<text x="287.5" y="80.19" font-size="7.2" fill="#de5048" textLength="49.5" lengthAdjust="spacingAndGlyphs">-1.70%(-575.18)</text>
<text x="341.3" y="80.19" font-size="7.2" fill="#e6e8f0" textLength="15.5" lengthAdjust="spacingAndGlyphs">振幅:</text>
<text x="356.8" y="80.19" font-size="7.2" fill="#de5048" textLength="19.0" lengthAdjust="spacingAndGlyphs">2.45%</text>
<path d="M38.6 87.2l1.9 1.9l1.9 -1.9" stroke="#9aa0b6" stroke-width="0.8" fill="none"/>
<text x="867.9" y="104.09" font-size="7.2" fill="#c2c7d7" textLength="27.1" lengthAdjust="spacingAndGlyphs">40655.18</text>
<text x="867.9" y="133.36" font-size="7.2" fill="#c2c7d7" textLength="27.1" lengthAdjust="spacingAndGlyphs">37961.84</text>
<text x="867.9" y="162.63" font-size="7.2" fill="#c2c7d7" textLength="27.1" lengthAdjust="spacingAndGlyphs">35446.93</text>
<text x="867.9" y="221.17" font-size="7.2" fill="#c2c7d7" textLength="27.1" lengthAdjust="spacingAndGlyphs">30905.91</text>
<text x="867.9" y="250.44" font-size="7.2" fill="#c2c7d7" textLength="27.1" lengthAdjust="spacingAndGlyphs">28858.44</text>
<text x="867.9" y="279.71" font-size="7.2" fill="#c2c7d7" textLength="27.1" lengthAdjust="spacingAndGlyphs">26946.62</text>
<text x="867.9" y="308.98" font-size="7.2" fill="#c2c7d7" textLength="27.1" lengthAdjust="spacingAndGlyphs">25161.45</text>
<text x="867.9" y="338.25" font-size="7.2" fill="#c2c7d7" textLength="27.1" lengthAdjust="spacingAndGlyphs">23494.55</text>
<rect x="862.4" y="181.5" width="37.6" height="11.8" fill="#cb5250"/>
<path d="M862.4 187.4h3.4" stroke="#fff" stroke-width="0.9"/>
<text x="867.9" y="190.09" font-size="7.2" fill="#fff" textLength="27.1" lengthAdjust="spacingAndGlyphs">33242.19</text>
<text x="873.2" y="383.39" font-size="7.2" fill="#c2c7d7" textLength="16.4" lengthAdjust="spacingAndGlyphs">20.00</text>
<text x="875.6" y="409.89" font-size="7.2" fill="#c2c7d7" textLength="14.0" lengthAdjust="spacingAndGlyphs">0.00</text>
<text x="872.2" y="436.19" font-size="7.2" fill="#c2c7d7" textLength="18.4" lengthAdjust="spacingAndGlyphs">-20.00</text>
<path d="M38.3 371.8l1.9 1.9l1.9 -1.9" stroke="#9aa0b6" stroke-width="0.8" fill="none"/>
<text x="48.5" y="375.29" font-size="7.2" fill="#e6e8f0" textLength="31.7" lengthAdjust="spacingAndGlyphs">ROC(12,6)</text>
<g fill="none" stroke="#9aa0b6" stroke-width="0.7"><path d="M87.1 369.7l2.6 1.5v3l-2.6 1.5l-2.6 -1.5v-3z"/><circle cx="87.1" cy="372.7" r="1"/><path d="M96 370.4l4.6 4.6M100.6 370.4l-4.6 4.6"/></g>
<text x="105.8" y="375.29" font-size="7.2" fill="#e6e8f0" textLength="31.2" lengthAdjust="spacingAndGlyphs">ROC:-3.29</text>
<text x="140.5" y="375.29" font-size="7.2" fill="#eee02a" textLength="41.8" lengthAdjust="spacingAndGlyphs">MAROC:-8.40</text>
<path d="M29.0 408.7L33.0 404.1L37.0 405.2L42.3 402.8L47.7 403.9L53.0 406.8L58.3 404.1L67.7 407.3L78.3 407.9L90.3 407.3L96.5 398.0L101.8 403.9L107.7 402.0L117.0 395.3L122.3 398.8L127.7 398.0L134.3 393.5L139.7 392.1L146.3 390.8L154.3 385.2L159.1 390.0L165.0 388.7L170.3 393.5L175.7 398.8L179.7 395.3L187.7 396.1L197.0 401.2L203.7 402.8L211.7 407.9L218.3 412.7L223.7 410.5L229.0 410.5L234.3 406.8L238.3 402.0L243.7 403.3L249.0 400.7L254.3 402.0L260.3 400.7L264.3 398.0L269.7 398.0L275.0 394.0L280.3 393.5L285.7 396.7L295.0 396.7L303.0 400.7L312.3 404.1L317.7 400.7L323.0 402.0L329.7 406.0L339.0 405.5L348.3 403.3L355.0 392.7L359.8 388.1L365.7 392.7L371.0 392.1L376.3 382.8L381.7 383.9L387.0 387.9L392.3 390.0L397.7 390.0L403.0 387.9L408.3 395.3L413.7 402.0L419.0 407.3L423.0 412.7L428.3 408.1L433.7 413.2L439.0 421.2L444.3 417.2L449.7 412.7L455.0 403.3L460.3 403.3L465.7 404.7L471.0 396.7L475.8 389.2L481.7 395.9L487.0 394.0L491.7 387.3L497.0 380.1L502.3 381.2L507.7 381.5L512.5 378.8L518.3 386.0L523.7 386.0L529.0 390.8L533.8 391.3L539.1 382.8L544.5 382.8L549.8 386.0L555.1 392.7L560.5 397.5L570.3 397.2L576.5 402.0L581.8 402.0L587.1 405.2L592.5 400.7L597.0 400.7L602.3 414.0L607.7 410.8L613.0 417.2L618.3 415.3L623.7 422.8L629.0 424.7L634.3 430.0L639.7 436.1L644.5 434.0L649.8 422.8L655.7 424.7L661.0 421.2L666.3 419.9L671.7 426.0L676.5 417.2L681.8 421.2L687.1 412.7L691.7 411.3" fill="none" stroke="#c4c8d6" stroke-width="0.8" stroke-linejoin="round"/>
<path d="M29.0 408.7L41.0 406.0L51.7 404.7L65.0 405.2L78.3 406.8L90.3 407.3L105.0 404.7L118.3 400.7L131.7 397.2L145.0 394.0L158.3 390.5L165.0 389.2L174.3 390.8L185.0 393.5L198.3 396.7L211.7 401.5L222.3 406.8L231.7 409.2L238.3 409.2L249.0 406.0L257.0 403.3L268.3 400.7L281.7 397.5L292.3 396.1L303.0 396.7L313.7 399.3L324.3 401.2L335.0 403.3L345.7 404.7L352.3 403.9L361.7 399.3L371.0 395.3L381.7 388.7L391.0 387.9L401.7 387.3L409.7 391.3L420.3 398.0L431.0 404.7L439.0 410.0L447.0 413.5L455.0 412.7L465.7 410.5L473.7 404.1L481.7 398.8L489.7 395.9L493.0 392.7L502.3 387.3L511.7 384.7L522.3 382.0L533.0 385.5L543.7 386.5L554.3 387.9L565.0 390.0L575.7 395.3L586.3 400.1L597.0 401.2L605.0 404.7L618.3 410.0L629.0 418.0L639.7 425.5L647.7 427.9L658.3 428.1L669.0 426.0L679.7 422.0L691.7 418.0" fill="none" stroke="#d6c81e" stroke-width="0.8" stroke-linejoin="round"/>
<text x="35.7" y="447.99" font-size="7.2" fill="#c2c7d7" textLength="9.3" lengthAdjust="spacingAndGlyphs">MA</text>
<text x="51.7" y="447.99" font-size="7.2" fill="#c2c7d7" textLength="15.0" lengthAdjust="spacingAndGlyphs">EMA</text>
<text x="72.7" y="447.99" font-size="7.2" fill="#c2c7d7" textLength="27.3" lengthAdjust="spacingAndGlyphs">VOLUME</text>
<text x="106" y="447.99" font-size="7.2" fill="#c2c7d7" textLength="20.0" lengthAdjust="spacingAndGlyphs">MACD</text>
<text x="131.7" y="447.99" font-size="7.2" fill="#c2c7d7" textLength="12.3" lengthAdjust="spacingAndGlyphs">DMI</text>
<text x="150.7" y="447.99" font-size="7.2" fill="#c2c7d7" textLength="15.0" lengthAdjust="spacingAndGlyphs">DMA</text>
<text x="171.7" y="447.99" font-size="7.2" fill="#c2c7d7" textLength="15.0" lengthAdjust="spacingAndGlyphs">TRIX</text>
<text x="192.7" y="447.99" font-size="7.2" fill="#c2c7d7" textLength="17.3" lengthAdjust="spacingAndGlyphs">BRAR</text>
<text x="216" y="447.99" font-size="7.2" fill="#c2c7d7" textLength="8.0" lengthAdjust="spacingAndGlyphs">VR</text>
<text x="230.7" y="447.99" font-size="7.2" fill="#c2c7d7" textLength="13.6" lengthAdjust="spacingAndGlyphs">OBV</text>
<text x="250" y="447.99" font-size="7.2" fill="#c2c7d7" textLength="15.0" lengthAdjust="spacingAndGlyphs">EMV</text>
<text x="270.7" y="447.99" font-size="7.2" fill="#c2c7d7" textLength="10.3" lengthAdjust="spacingAndGlyphs">RSI</text>
<text x="286.7" y="447.99" font-size="7.2" fill="#c2c7d7" textLength="10.0" lengthAdjust="spacingAndGlyphs">WR</text>
<text x="303.3" y="447.99" font-size="7.2" fill="#c2c7d7" textLength="12.7" lengthAdjust="spacingAndGlyphs">SAR</text>
<text x="322.3" y="447.99" font-size="7.2" fill="#c2c7d7" textLength="12.7" lengthAdjust="spacingAndGlyphs">KDJ</text>
<text x="340.7" y="447.99" font-size="7.2" fill="#3b86f0" textLength="13.6" lengthAdjust="spacingAndGlyphs">ROC</text>
<text x="360.7" y="447.99" font-size="7.2" fill="#c2c7d7" textLength="16.0" lengthAdjust="spacingAndGlyphs">MTM</text>
<text x="382.7" y="447.99" font-size="7.2" fill="#c2c7d7" textLength="16.6" lengthAdjust="spacingAndGlyphs">BOLL</text>
<text x="405.7" y="447.99" font-size="7.2" fill="#c2c7d7" textLength="12.6" lengthAdjust="spacingAndGlyphs">PSY</text>
<text x="424" y="447.99" font-size="7.2" fill="#c2c7d7" textLength="28.3" lengthAdjust="spacingAndGlyphs">StochRSI</text>
<text x="458.3" y="447.99" font-size="7.2" fill="#c2c7d7" textLength="11.7" lengthAdjust="spacingAndGlyphs">SMI</text>
<text x="476.7" y="447.99" font-size="7.2" fill="#c2c7d7" textLength="10.6" lengthAdjust="spacingAndGlyphs">CCI</text>
<text x="494" y="447.99" font-size="7.2" fill="#c2c7d7" textLength="11.7" lengthAdjust="spacingAndGlyphs">MFI</text>
<text x="511.7" y="447.99" font-size="7.2" fill="#c2c7d7" textLength="12.3" lengthAdjust="spacingAndGlyphs">ATR</text>
<text x="529.3" y="447.99" font-size="7.2" fill="#c2c7d7" textLength="15.7" lengthAdjust="spacingAndGlyphs">BBW</text>
<text x="550.7" y="447.99" font-size="7.2" fill="#c2c7d7" textLength="17.0" lengthAdjust="spacingAndGlyphs">SKDJ</text>
<text x="573.3" y="447.99" font-size="7.2" fill="#c2c7d7" textLength="15.0" lengthAdjust="spacingAndGlyphs">BIAS</text>
<text x="594.3" y="447.99" font-size="7.2" fill="#c2c7d7" textLength="14.0" lengthAdjust="spacingAndGlyphs">DPO</text>
<text x="614.3" y="447.99" font-size="7.2" fill="#c2c7d7" textLength="9.0" lengthAdjust="spacingAndGlyphs">AO</text>
<text x="630" y="447.99" font-size="7.2" fill="#c2c7d7" textLength="25.0" lengthAdjust="spacingAndGlyphs">Position</text>
<text x="661" y="447.99" font-size="7.2" fill="#c2c7d7" textLength="28.3" lengthAdjust="spacingAndGlyphs">Fundflow</text>
<text x="696" y="447.99" font-size="7.2" fill="#c2c7d7" textLength="31.7" lengthAdjust="spacingAndGlyphs">AI-NetVOL</text>
<text x="734.3" y="447.99" font-size="7.2" fill="#c2c7d7" textLength="16.7" lengthAdjust="spacingAndGlyphs">LSUR</text>
<text x="757.3" y="447.99" font-size="7.2" fill="#c2c7d7" textLength="18.4" lengthAdjust="spacingAndGlyphs">BASIS</text>
<text x="781.7" y="447.99" font-size="7.2" fill="#c2c7d7" textLength="28.3" lengthAdjust="spacingAndGlyphs">TVolume</text>
<text x="815.7" y="447.99" font-size="7.2" fill="#c2c7d7" textLength="16.6" lengthAdjust="spacingAndGlyphs">FTBS</text>
<text x="838.3" y="447.99" font-size="7.2" fill="#c2c7d7" textLength="14.0" lengthAdjust="spacingAndGlyphs">TTSI</text>
<rect x="29" y="451" width="826" height="13" fill="#000"/>
<path d="M29 451H862.6" stroke="#232a48" stroke-width="0.8"/>
<rect x="855" y="451" width="45" height="13" fill="#141a2e"/>
<text x="94.8" y="459.79" font-size="7.2" fill="#c2c7d7" textLength="22.4" lengthAdjust="spacingAndGlyphs">12月 26</text>
<text x="158.2" y="459.79" font-size="7.2" fill="#c2c7d7" textLength="22.3" lengthAdjust="spacingAndGlyphs">12月 28</text>
<text x="221.5" y="459.79" font-size="7.2" fill="#c2c7d7" textLength="22.3" lengthAdjust="spacingAndGlyphs">12月 30</text>
<text x="288.7" y="459.79" font-size="7.2" fill="#c2c7d7" textLength="14.5" lengthAdjust="spacingAndGlyphs">1月 1</text>
<text x="351.8" y="459.79" font-size="7.2" fill="#c2c7d7" textLength="15.0" lengthAdjust="spacingAndGlyphs">1月 3</text>
<text x="415.1" y="459.79" font-size="7.2" fill="#c2c7d7" textLength="15.0" lengthAdjust="spacingAndGlyphs">1月 5</text>
<text x="478.5" y="459.79" font-size="7.2" fill="#c2c7d7" textLength="15.0" lengthAdjust="spacingAndGlyphs">1月 7</text>
<text x="541.8" y="459.79" font-size="7.2" fill="#c2c7d7" textLength="15.0" lengthAdjust="spacingAndGlyphs">1月 9</text>
<text x="603.4" y="459.79" font-size="7.2" fill="#c2c7d7" textLength="18.4" lengthAdjust="spacingAndGlyphs">1月 11</text>
<text x="666.6" y="459.79" font-size="7.2" fill="#c2c7d7" textLength="18.8" lengthAdjust="spacingAndGlyphs">1月 13</text>
<text x="729.9" y="459.79" font-size="7.2" fill="#c2c7d7" textLength="18.8" lengthAdjust="spacingAndGlyphs">1月 15</text>
<text x="793.2" y="459.79" font-size="7.2" fill="#c2c7d7" textLength="18.8" lengthAdjust="spacingAndGlyphs">1月 17</text>
<text x="855.7" y="459.99" font-size="7.2" fill="#2f7de0" textLength="12.6" lengthAdjust="spacingAndGlyphs">对数</text>
<text x="875" y="459.92" font-size="7" fill="#c2c7d7">%</text>
<text x="885.7" y="459.99" font-size="7.2" fill="#2f7de0" textLength="14.3" lengthAdjust="spacingAndGlyphs">自动</text>
</svg>
<svg style="left:748px;top:466.5px" width="12" height="9" viewBox="-6 -7 12 9" fill="none" stroke="#c9cede" stroke-width="0.8"><path d="M-5 -3.4a7 7 0 0 1 10 0M-3.4 -1.8a4.8 4.8 0 0 1 6.8 0M-1.8 -0.3a2.5 2.5 0 0 1 3.6 0"/><circle cy="1" r="0.6" fill="#c9cede"/></svg>
<svg style="left:0;top:0" width="900" height="481" viewBox="0 0 900 481" font-family='"Liberation Sans","Noto Sans CJK SC",sans-serif'><text x="20.3" y="11.72" font-size="8.4" fill="#f2f4fa" textLength="41.4" lengthAdjust="spacingAndGlyphs">炊事团团长</text><text x="589.3" y="11.44" font-size="7.6" fill="#c2c7d7" textLength="53.0" lengthAdjust="spacingAndGlyphs">智赢1号有新信号</text><text x="646.1" y="11.44" font-size="7.6" fill="#c6a97e" textLength="48.2" lengthAdjust="spacingAndGlyphs">仅胜率会员查看</text><text x="794.3" y="11.49" font-size="7.2" fill="#c2c7d7" textLength="12.5" lengthAdjust="spacingAndGlyphs">CNY</text><text x="32.8" y="25.90" font-size="7.5" fill="#eef0f7" textLength="33.0" lengthAdjust="spacingAndGlyphs">BTC/USDT</text><text x="32.8" y="32.12" font-size="5.9" fill="#7c84a2" textLength="29.4" lengthAdjust="spacingAndGlyphs">火币全球站</text><text x="86.19999999999999" y="25.90" font-size="7.5" fill="#9ea5bb" textLength="28.8" lengthAdjust="spacingAndGlyphs">ETH/BTC</text><text x="86.19999999999999" y="32.12" font-size="5.9" fill="#535b78" textLength="11.8" lengthAdjust="spacingAndGlyphs">币安</text><text x="139.6" y="25.90" font-size="7.5" fill="#9ea5bb" textLength="33.0" lengthAdjust="spacingAndGlyphs">ETH/USDT</text><text x="139.6" y="32.12" font-size="5.9" fill="#535b78" textLength="29.6" lengthAdjust="spacingAndGlyphs">火币全球站</text><text x="193.0" y="25.90" font-size="7.5" fill="#9ea5bb" textLength="33.2" lengthAdjust="spacingAndGlyphs">DOT/USDT</text><text x="193.0" y="32.12" font-size="5.9" fill="#535b78" textLength="11.8" lengthAdjust="spacingAndGlyphs">币安</text><text x="246.39999999999998" y="25.90" font-size="7.5" fill="#9ea5bb" textLength="31.7" lengthAdjust="spacingAndGlyphs">LTC/USDT</text><text x="246.39999999999998" y="32.12" font-size="5.9" fill="#535b78" textLength="29.5" lengthAdjust="spacingAndGlyphs">火币全球站</text><text x="299.8" y="25.90" font-size="7.5" fill="#9ea5bb" textLength="36.8" lengthAdjust="spacingAndGlyphs">EGLD/USDT</text><text x="299.8" y="32.12" font-size="5.9" fill="#535b78" textLength="38.5" lengthAdjust="spacingAndGlyphs">币安USDT永续</text><text x="353.2" y="25.90" font-size="7.5" fill="#9ea5bb" textLength="32.8" lengthAdjust="spacingAndGlyphs">EOS/USDT</text><text x="353.2" y="32.12" font-size="5.9" fill="#535b78" textLength="29.5" lengthAdjust="spacingAndGlyphs">火币全球站</text><text x="47" y="46.99" font-size="7.2" fill="#c2c7d7" textLength="14.3" lengthAdjust="spacingAndGlyphs">指标</text><text x="77.5" y="46.99" font-size="7.2" fill="#c2c7d7" textLength="14.5" lengthAdjust="spacingAndGlyphs">设置</text><text x="106.8" y="46.99" font-size="7.2" fill="#3b86f0" textLength="14.5" lengthAdjust="spacingAndGlyphs">画线</text><text x="135.8" y="46.99" font-size="7.2" fill="#c2c7d7" textLength="14.2" lengthAdjust="spacingAndGlyphs">高级</text><text x="165.5" y="46.99" font-size="7.2" fill="#e8a020" textLength="14.0" lengthAdjust="spacingAndGlyphs">胜率</text><text x="194.5" y="46.96" font-size="7.1" fill="#e4e7f0" textLength="34.3" lengthAdjust="spacingAndGlyphs">自定义周期</text><text x="242" y="46.96" font-size="7.1" fill="#c2c7d7" textLength="13.5" lengthAdjust="spacingAndGlyphs">分时</text><text x="260.8" y="46.96" font-size="7.1" fill="#c2c7d7" textLength="10.5" lengthAdjust="spacingAndGlyphs">3日</text><text x="276.8" y="46.96" font-size="7.1" fill="#c2c7d7" textLength="17.5" lengthAdjust="spacingAndGlyphs">5分钟</text><text x="299.5" y="46.96" font-size="7.1" fill="#c2c7d7" textLength="17.5" lengthAdjust="spacingAndGlyphs">1分钟</text><text x="322.5" y="46.96" font-size="7.1" fill="#c2c7d7" textLength="21.3" lengthAdjust="spacingAndGlyphs">15分钟</text><text x="349.3" y="46.96" font-size="7.1" fill="#c2c7d7" textLength="17.0" lengthAdjust="spacingAndGlyphs">1小时</text><text x="371.3" y="46.96" font-size="7.1" fill="#3b86f0" textLength="17.5" lengthAdjust="spacingAndGlyphs">4小时</text><text x="394.3" y="46.96" font-size="7.1" fill="#c2c7d7" textLength="10.2" lengthAdjust="spacingAndGlyphs">1日</text><text x="409.5" y="46.96" font-size="7.1" fill="#c2c7d7" textLength="10.5" lengthAdjust="spacingAndGlyphs">周K</text><text x="425.8" y="46.96" font-size="7.1" fill="#c2c7d7" textLength="11.2" lengthAdjust="spacingAndGlyphs">月K</text><text x="442.3" y="46.96" font-size="7.1" fill="#c2c7d7" textLength="17.5" lengthAdjust="spacingAndGlyphs">3分钟</text><text x="465" y="46.96" font-size="7.1" fill="#c2c7d7" textLength="21.3" lengthAdjust="spacingAndGlyphs">30分钟</text><text x="491.8" y="46.96" font-size="7.1" fill="#c2c7d7" textLength="17.0" lengthAdjust="spacingAndGlyphs">2小时</text><text x="514.3" y="46.96" font-size="7.1" fill="#c2c7d7" textLength="17.5" lengthAdjust="spacingAndGlyphs">6小时</text><text x="537" y="46.96" font-size="7.1" fill="#c2c7d7" textLength="21.3" lengthAdjust="spacingAndGlyphs">12小时</text><text x="563.8" y="46.96" font-size="7.1" fill="#c2c7d7" textLength="21.2" lengthAdjust="spacingAndGlyphs">10分钟</text><text x="590" y="46.96" font-size="7.1" fill="#c2c7d7" textLength="17.5" lengthAdjust="spacingAndGlyphs">3小时</text><text x="613" y="46.96" font-size="7.1" fill="#c2c7d7" textLength="10.3" lengthAdjust="spacingAndGlyphs">2日</text><text x="628.8" y="46.96" font-size="7.1" fill="#c2c7d7" textLength="10.5" lengthAdjust="spacingAndGlyphs">5日</text><text x="644.3" y="46.96" font-size="7.1" fill="#c2c7d7" textLength="10.7" lengthAdjust="spacingAndGlyphs">年K</text><text x="818.7" y="46.79" font-size="7.2" fill="#c2c7d7" textLength="8.0" lengthAdjust="spacingAndGlyphs">2s</text><text x="864" y="47.59" font-size="7.2" fill="#c2c7d7">单屏</text><text x="184.5" y="65.48" font-size="8" fill="#c2c7d7">Aa</text><text x="7.3" y="74.29" font-size="7.2" fill="#3b86f0" textLength="14.2" lengthAdjust="spacingAndGlyphs">行情</text><text x="7.3" y="112.49" font-size="7.2" fill="#7f869e" textLength="14.2" lengthAdjust="spacingAndGlyphs">套利</text><text x="7.3" y="150.39" font-size="7.2" fill="#7f869e" textLength="14.2" lengthAdjust="spacingAndGlyphs">资产</text><text x="7.3" y="187.79" font-size="7.2" fill="#7f869e" textLength="14.2" lengthAdjust="spacingAndGlyphs">授权</text><text x="7.3" y="225.29" font-size="7.2" fill="#7f869e" textLength="14.2" lengthAdjust="spacingAndGlyphs">快讯</text><text x="35" y="475.39" font-size="7.2" fill="#c2c7d7" textLength="80.0" lengthAdjust="spacingAndGlyphs">CME比特币期货CFD-新浪:</text><text x="120" y="475.39" font-size="7.2" fill="#c2c7d7" textLength="33.3" lengthAdjust="spacingAndGlyphs">$33433.50</text><text x="156.7" y="475.39" font-size="7.2" fill="#e8544e" textLength="20.6" lengthAdjust="spacingAndGlyphs">-6.60%</text><text x="191" y="475.39" font-size="7.2" fill="#c2c7d7" textLength="70.7" lengthAdjust="spacingAndGlyphs">USDT场外-火币全球站:</text><text x="266" y="475.39" font-size="7.2" fill="#c2c7d7" textLength="18.0" lengthAdjust="spacingAndGlyphs">¥6.45</text><text x="287.3" y="475.39" font-size="7.2" fill="#c2c7d7" textLength="8.4" lengthAdjust="spacingAndGlyphs">0%</text><text x="310" y="475.39" font-size="7.2" fill="#c2c7d7" textLength="38.3" lengthAdjust="spacingAndGlyphs">伦敦金-新浪:</text><text x="353.3" y="475.39" font-size="7.2" fill="#c2c7d7" textLength="29.0" lengthAdjust="spacingAndGlyphs">$1859.76</text><text x="385.7" y="475.39" font-size="7.2" fill="#10c888" textLength="22.6" lengthAdjust="spacingAndGlyphs">+0.49%</text><text x="422.7" y="475.39" font-size="7.2" fill="#c2c7d7" textLength="55.6" lengthAdjust="spacingAndGlyphs">纽约原油CFD(CL):</text><text x="484" y="475.39" font-size="7.2" fill="#c2c7d7" textLength="21.0" lengthAdjust="spacingAndGlyphs">$53.87</text><text x="507.7" y="475.39" font-size="7.2" fill="#10c888" textLength="23.0" lengthAdjust="spacingAndGlyphs">+3.26%</text><text x="763.3" y="475.39" font-size="7.2" fill="#c2c7d7" textLength="18.4" lengthAdjust="spacingAndGlyphs">线路1</text></svg>
<div class="abs" style="left:790px;top:467.4px;width:110px;height:13.6px;background:#fdfdfd;"></div>
<svg style="left:779px;top:465px" width="121" height="16" viewBox="779 465 121 16">
<path d="M780.4 468.8l14 -2.6l2.6 12.4l-13.8 2.4z" fill="#f0561e"/>
<text x="783.2" y="479" font-size="14" font-weight="bold" font-style="italic" fill="#fff" font-family='"Liberation Sans",sans-serif'>S</text>
<text x="799.4" y="478.6" font-size="10" font-weight="bold" fill="#2a73d8" font-family='"Liberation Sans","Noto Sans CJK SC",sans-serif'>中</text>
<circle cx="815" cy="473" r="1" fill="none" stroke="#2a73d8" stroke-width="0.7"/><path d="M818.6 474.6q0.9 1.4 -0.8 3" stroke="#2a73d8" stroke-width="1.2" fill="none"/>
<g fill="none" stroke="#2a73d8" stroke-width="1"><circle cx="828.8" cy="475" r="4"/><path d="M827.4 473.4v1.4M830.2 473.4v1.4M826.8 476.6q2 1.4 4 0" stroke-width="0.8"/>
<rect x="840.4" y="470.6" width="2.8" height="5.4" rx="1.4" fill="#2a73d8"/><path d="M838.8 474.6a3 3 0 0 0 6 0M841.8 477.6v1.8"/>
<rect x="850.4" y="471.8" width="9.4" height="6.2" rx="0.9" fill="#2a73d8"/><path d="M852 473.7h6.2M852.8 476h4.6" stroke="#fff" stroke-width="0.8" stroke-dasharray="1 0.7"/></g>
<g fill="#b8bcc8"><circle cx="866.6" cy="472.6" r="1.7"/><path d="M863.4 479v-2a3.2 3.2 0 0 1 6.4 0v2z"/><rect x="869" y="475.4" width="3.4" height="3.6"/></g>
<path d="M876.4 471.6l2.4 -1q1.6 1.2 3.2 0l2.4 1l1 2.4l-1.6 0.8v4.6h-6.8v-4.6l-1.6 -0.8z" fill="#2a73d8"/>
<g fill="#2a73d8"><rect x="889.4" y="470.8" width="3.2" height="3.2"/><rect x="893.6" y="470" width="3.2" height="3.2"/><rect x="889.4" y="475" width="3.2" height="3.2"/><rect x="893.6" y="475" width="3.2" height="3.2"/></g>
</svg>
<svg style="left:860.7px;top:12.5px" width="34" height="36" viewBox="-17 -18 34 36"><defs><linearGradient id="hg" x1="0" y1="0" x2="0.9" y2="1"><stop offset="0" stop-color="#62a8ff"/><stop offset="0.55" stop-color="#3f8cfb"/><stop offset="1" stop-color="#2a66ee"/></linearGradient></defs><path d="M0 -14.6L13.4 -7.3V7.3L0 14.6L-13.4 7.3V-7.3Z" fill="url(#hg)" stroke="url(#hg)" stroke-width="2.4" stroke-linejoin="round"/><path d="M0 -14.6L13.4 -7.3L0 0L-13.4 -7.3Z" fill="#8cc0ff" opacity="0.18"/><path d="M-9.9 -5.9Q-8 -7 -6.2 -6.1Q-4.2 -5.2 -3.2 -3.3Q3.5 -4.5 9.3 -9.4Q9.5 -3.5 4.8 -0.3L10.2 2Q6.5 3.6 3.8 4.2Q3.6 8 4.1 11.1Q-2 9.5 -4.7 5.7Q-6.5 2.5 -6.2 -1.3Q-6.3 -3.2 -7.2 -4Z" fill="#f4f8ff"/></svg>
</body></html>
